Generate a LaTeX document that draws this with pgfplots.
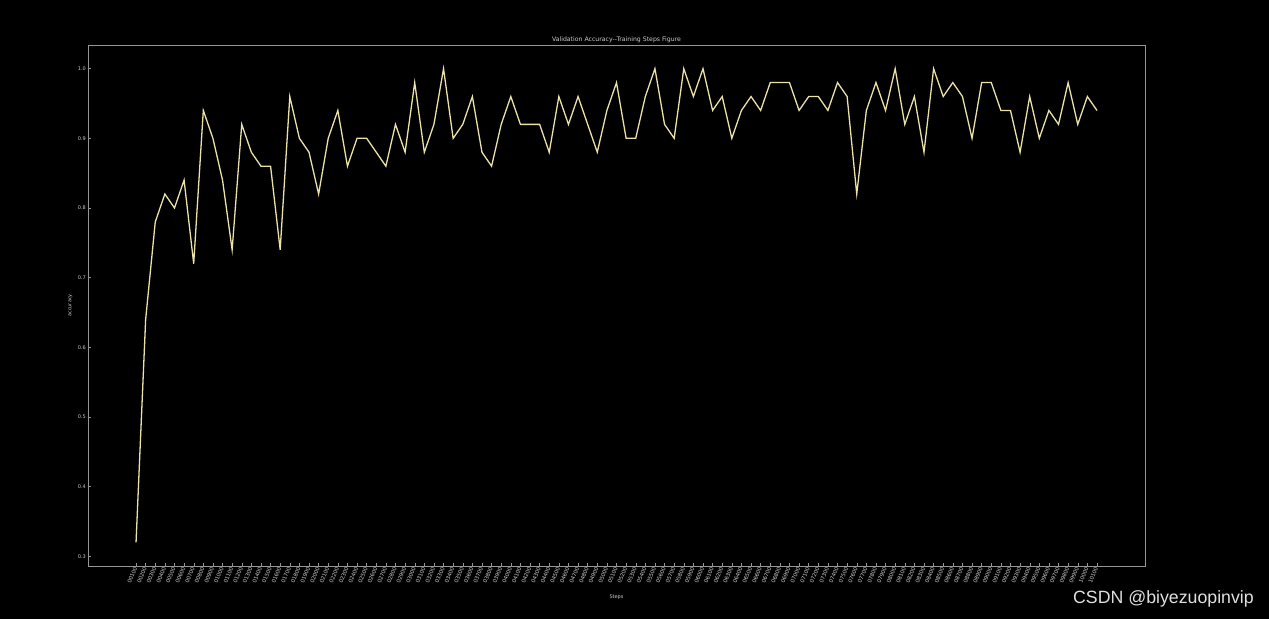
\documentclass[border=0pt]{standalone}
\usepackage{pgfplots}
\pgfplotsset{compat=1.18}
\usepackage{fontspec}
\setmainfont{DejaVu Sans}
\newfontfamily\wm{Liberation Sans}
\definecolor{linec}{RGB}{236,226,168}
\definecolor{axc}{RGB}{150,150,150}
\definecolor{txc}{RGB}{205,205,205}
\begin{document}
\begin{tikzpicture}[x=1bp,y=1bp]
\path[use as bounding box, fill=black] (0,0) rectangle (1269,619);
\begin{axis}[
  at={(88bp,53bp)}, anchor=south west,
  scale only axis, width=1057bp, height=521bp,
  xmin=-5, xmax=105, ymin=0.286, ymax=1.034,
  axis line style={axc, line width=0.6pt},
  tick style={axc, line width=0.4pt},
  xtick pos=lower, ytick pos=left,
  major tick length=2.5bp,
  xtick={0,...,100},
  ytick={0.3,0.4,0.5,0.6,0.7,0.8,0.9,1.0},
  yticklabels={0.3,0.4,0.5,0.6,0.7,0.8,0.9,1.0},
  xticklabel={\pgfmathtruncatemacro\v{\tick*100+100}\ifnum\v<1000 00\else\ifnum\v<10000 0\fi\fi\v},
  /pgf/number format/assume math mode=true,
  x tick label style={font=\fontsize{5.4}{5.4}\selectfont, text=txc, rotate=68, anchor=east, inner sep=1.2bp},
  y tick label style={font=\fontsize{5}{5}\selectfont, text=txc, inner sep=2bp},
  title={Validation Accuracy-{}-Training Steps Figure},
  title style={font=\fontsize{6.2}{7}\selectfont, text=txc, yshift=-7bp},
  xlabel={Steps}, ylabel={accuracy},
  xlabel style={font=\fontsize{5}{5}\selectfont, text=txc, yshift=-6bp},
  ylabel style={font=\fontsize{5}{5}\selectfont, text=txc, yshift=0bp},
  clip=false,
]
\addplot[linec, line width=1.3pt, mark=none] table {
x y
0 0.32
1 0.64
2 0.78
3 0.82
4 0.80
5 0.84
6 0.72
7 0.94
8 0.90
9 0.84
10 0.74
11 0.92
12 0.88
13 0.86
14 0.86
15 0.74
16 0.96
17 0.90
18 0.88
19 0.82
20 0.90
21 0.94
22 0.86
23 0.90
24 0.90
25 0.88
26 0.86
27 0.92
28 0.88
29 0.98
30 0.88
31 0.92
32 1.00
33 0.90
34 0.92
35 0.96
36 0.88
37 0.86
38 0.92
39 0.96
40 0.92
41 0.92
42 0.92
43 0.88
44 0.96
45 0.92
46 0.96
47 0.92
48 0.88
49 0.94
50 0.98
51 0.90
52 0.90
53 0.96
54 1.00
55 0.92
56 0.90
57 1.00
58 0.96
59 1.00
60 0.94
61 0.96
62 0.90
63 0.94
64 0.96
65 0.94
66 0.98
67 0.98
68 0.98
69 0.94
70 0.96
71 0.96
72 0.94
73 0.98
74 0.96
75 0.82
76 0.94
77 0.98
78 0.94
79 1.00
80 0.92
81 0.96
82 0.88
83 1.00
84 0.96
85 0.98
86 0.96
87 0.90
88 0.98
89 0.98
90 0.94
91 0.94
92 0.88
93 0.96
94 0.90
95 0.94
96 0.92
97 0.98
98 0.92
99 0.96
100 0.94
};
\end{axis}
\node[anchor=east, text=white!88!black, font=\wm\fontsize{17.8}{18}\selectfont, inner sep=0pt] at (1254,20) {CSDN @biyezuopinvip};
\end{tikzpicture}
\end{document}
